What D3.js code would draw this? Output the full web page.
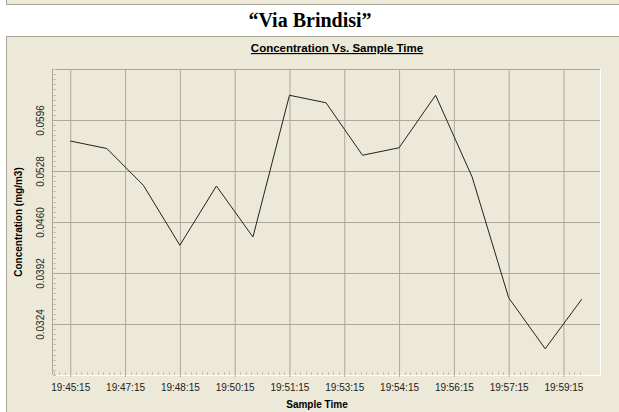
<!DOCTYPE html>
<html>
<head>
<meta charset="utf-8">
<script src="https://cdn.jsdelivr.net/npm/d3@7"></script>
<style>
  body { margin: 0; background: #fff; }
  svg { display: block; }
</style>
</head>
<body>
<div class="chart"></div>
<script>
var svgWidth = 619;
var svgHeight = 412;

// sample times shown on the x axis (one label every 1.5 samples)
var timeLabels = ["19:45:15", "19:47:15", "19:48:15", "19:50:15", "19:51:15",
  "19:53:15", "19:54:15", "19:56:15", "19:57:15", "19:59:15"];

// concentration readings (mg/m3), one per sample
var concentration = [0.0568, 0.0558, 0.0509, 0.0429, 0.0508, 0.0440, 0.0629, 0.0619,
  0.0549, 0.0559, 0.0629, 0.0520, 0.0359, 0.0291, 0.0357];

// y tick values that carry a label
var yTicks = [0.0324, 0.0392, 0.0460, 0.0528, 0.0596];

var margin = { top: 69, right: 19, bottom: 37, left: 52 };
var width = svgWidth - margin.left - margin.right;
var height = svgHeight - margin.top - margin.bottom;

var panelBg = "#ECE9D8";
var edge = "#ACA899";

var svg = d3.select(".chart")
  .append("svg")
  .attr("width", svgWidth)
  .attr("height", svgHeight);

// upper panel remnant and main panel
svg.append("rect").attr("x", 6.5).attr("y", -2).attr("width", 620).attr("height", 6.5)
  .attr("fill", panelBg).attr("stroke", edge);
svg.append("rect").attr("x", 6.5).attr("y", 36.5).attr("width", 620).attr("height", 400)
  .attr("fill", panelBg).attr("stroke", edge);

svg.append("text")
  .attr("x", 310).attr("y", 27)
  .attr("text-anchor", "middle")
  .attr("font-family", "Liberation Serif, Times New Roman, serif")
  .attr("font-weight", "bold")
  .attr("font-size", "20px")
  .text("\u201CVia Brindisi\u201D");

svg.append("text")
  .attr("x", 337).attr("y", 52)
  .attr("text-anchor", "middle")
  .attr("font-family", "Liberation Sans, Arial, sans-serif")
  .attr("font-weight", "bold")
  .attr("font-size", "11.5px")
  .attr("text-decoration", "underline")
  .text("Concentration Vs. Sample Time");

var chart = svg.append("g")
  .attr("transform", `translate(${margin.left}, ${margin.top})`);

var xScale = d3.scaleLinear().domain([-0.5, 14.5]).range([0, width]);
var yScale = d3.scaleLinear().domain([0.0256, 0.0664]).range([height, 0]);

var xMajor = timeLabels.map((d, i) => i * 1.5);
var xMinor = d3.range(-3, 94).map(k => k * 0.15).filter(v => Math.abs(v / 1.5 - Math.round(v / 1.5)) > 0.01);
var yMinor = d3.range(0, 61).map(k => 0.0256 + k * 0.00068);

// plot frame: dark top/left, white bottom/right
chart.append("line").attr("x1", 0.5).attr("x2", 0.5).attr("y1", 0).attr("y2", height).attr("stroke", edge);
chart.append("line").attr("x1", 0).attr("x2", width).attr("y1", 0.5).attr("y2", 0.5).attr("stroke", edge);
chart.append("line").attr("x1", width + 0.5).attr("x2", width + 0.5).attr("y1", 0).attr("y2", height + 1).attr("stroke", "#fff");
chart.append("line").attr("x1", 0).attr("x2", width + 1).attr("y1", height + 0.5).attr("y2", height + 0.5).attr("stroke", "#fff");

// minor ticks
chart.append("g").selectAll("line").data(yMinor).enter().append("line")
  .attr("x1", 1).attr("x2", 4)
  .attr("y1", d => Math.round(yScale(d)) + 0.5).attr("y2", d => Math.round(yScale(d)) + 0.5)
  .attr("stroke", "#C4C0B0");
chart.append("g").selectAll("line").data(xMinor).enter().append("line")
  .attr("x1", d => Math.round(xScale(d)) + 0.5).attr("x2", d => Math.round(xScale(d)) + 0.5)
  .attr("y1", height - 3).attr("y2", height)
  .attr("stroke", "#C4C0B0");

// x axis with vertical grid
var xAxis = chart.append("g")
  .attr("transform", `translate(0, ${height})`)
  .call(d3.axisBottom(xScale)
    .tickValues(xMajor)
    .tickFormat((d, i) => timeLabels[i])
    .tickSizeInner(-height - 2)
    .tickSizeOuter(0)
    .tickPadding(9));
xAxis.select(".domain").remove();
xAxis.selectAll(".tick line").attr("stroke", edge).attr("transform", "translate(0, 2)");
xAxis.selectAll(".tick text")
  .attr("font-family", "Liberation Sans, Arial, sans-serif")
  .attr("font-size", "10px")
  .attr("fill", "#222");

// y axis with horizontal grid
var yAxis = chart.append("g")
  .call(d3.axisLeft(yScale)
    .tickValues(yTicks)
    .tickFormat(d3.format(".4f"))
    .tickSizeInner(-width)
    .tickSizeOuter(0));
yAxis.select(".domain").remove();
yAxis.selectAll(".tick line").attr("stroke", edge);
yAxis.selectAll(".tick text")
  .attr("x", 0).attr("dy", 0)
  .attr("transform", "translate(-8.5, 0) rotate(-90)")
  .attr("text-anchor", "middle")
  .attr("font-family", "Liberation Sans, Arial, sans-serif")
  .attr("font-size", "10px")
  .attr("fill", "#222");

// data line
var line = d3.line()
  .x((d, i) => xScale(i))
  .y(d => yScale(d));

chart.append("path")
  .datum(concentration)
  .attr("d", line)
  .attr("fill", "none")
  .attr("stroke", "#222")
  .attr("stroke-width", 1);

// axis titles
svg.append("text")
  .attr("x", 317).attr("y", 408)
  .attr("text-anchor", "middle")
  .attr("font-family", "Liberation Sans, Arial, sans-serif")
  .attr("font-weight", "bold")
  .attr("font-size", "10px")
  .text("Sample Time");

svg.append("text")
  .attr("transform", `translate(22, ${margin.top + height / 2}) rotate(-90)`)
  .attr("text-anchor", "middle")
  .attr("font-family", "Liberation Sans, Arial, sans-serif")
  .attr("font-weight", "bold")
  .attr("font-size", "10px")
  .text("Concentration (mg/m3)");
</script>
</body>
</html>
